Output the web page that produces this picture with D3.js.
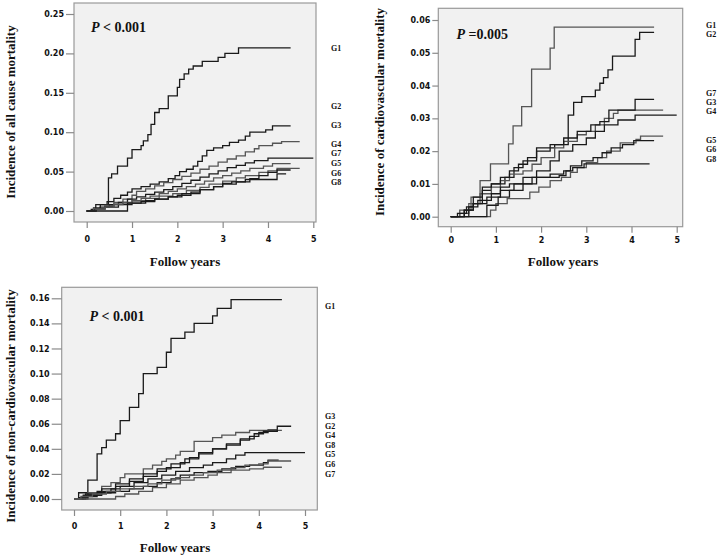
<!DOCTYPE html>
<html><head><meta charset="utf-8">
<script src="https://cdn.jsdelivr.net/npm/d3@7"></script>
<style>
body{margin:0;background:#fff;}
svg{display:block;}
</style></head>
<body>
<svg id="chart" width="722" height="557"></svg>
<script>
// ---------- DATA ----------
const xTicks = [0, 1, 2, 3, 4, 5];
const acTicks = [0, 0.05, 0.10, 0.15, 0.20, 0.25];
const cvTicks = [0, 0.01, 0.02, 0.03, 0.04, 0.05, 0.06];
const ncTicks = [0, 0.02, 0.04, 0.06, 0.08, 0.10, 0.12, 0.14, 0.16];

// All cause mortality: [years, cumulative incidence]
const acG1 = [[0,0],[0.2,0.008],[0.48,0.042],[0.55,0.047],[0.68,0.057],[0.9,0.067],[1.0,0.078],[1.2,0.083],[1.25,0.089],[1.35,0.097],[1.42,0.11],[1.5,0.125],[1.6,0.13],[1.8,0.146],[2.0,0.157],[2.05,0.167],[2.15,0.174],[2.25,0.18],[2.35,0.184],[2.55,0.19],[2.9,0.195],[3.05,0.2],[3.35,0.207],[4.5,0.207]];
const acG2 = [[0,0],[0.15,0.004],[0.3,0.008],[0.45,0.012],[0.6,0.016],[0.75,0.02],[0.9,0.024],[1.0,0.028],[1.2,0.031],[1.4,0.034],[1.6,0.037],[1.8,0.041],[1.95,0.045],[2.05,0.05],[2.2,0.053],[2.35,0.057],[2.45,0.063],[2.55,0.07],[2.65,0.077],[2.8,0.08],[3.0,0.083],[3.15,0.087],[3.35,0.09],[3.5,0.095],[3.6,0.1],[3.95,0.103],[4.1,0.108],[4.5,0.108]];
const acG3 = [[0,0],[0.2,0.003],[0.4,0.007],[0.6,0.011],[0.8,0.015],[1.0,0.02],[1.1,0.025],[1.3,0.028],[1.5,0.032],[1.7,0.036],[1.9,0.04],[2.1,0.044],[2.3,0.048],[2.5,0.053],[2.7,0.057],[2.9,0.062],[3.1,0.066],[3.3,0.07],[3.5,0.075],[3.7,0.079],[3.8,0.083],[4.1,0.086],[4.3,0.088],[4.7,0.088]];
const acG4 = [[0,0],[0.1,0.002],[0.3,0.005],[0.5,0.008],[0.7,0.011],[0.9,0.015],[1.1,0.018],[1.3,0.021],[1.5,0.024],[1.7,0.027],[1.9,0.031],[2.1,0.035],[2.3,0.039],[2.5,0.043],[2.7,0.047],[2.9,0.051],[3.1,0.055],[3.3,0.058],[3.5,0.061],[3.7,0.064],[4.0,0.067],[5.0,0.067]];
const acG5 = [[0,0],[0.15,0.003],[0.4,0.006],[0.6,0.009],[0.8,0.011],[1.0,0.013],[1.3,0.016],[1.6,0.019],[1.9,0.022],[2.2,0.026],[2.5,0.03],[2.7,0.034],[3.0,0.038],[3.3,0.042],[3.5,0.045],[3.8,0.049],[4.0,0.051],[4.2,0.054],[4.7,0.054]];
const acG6 = [[0,0],[0.2,0.002],[0.4,0.005],[0.7,0.008],[1.0,0.01],[1.3,0.013],[1.5,0.015],[1.8,0.018],[2.0,0.02],[2.3,0.024],[2.5,0.027],[2.8,0.031],[3.0,0.034],[3.3,0.037],[3.6,0.041],[3.8,0.045],[4.0,0.049],[4.2,0.052],[4.5,0.052]];
const acG7 = [[0,0],[0.2,0.002],[0.4,0.005],[0.6,0.008],[0.8,0.01],[1.0,0.013],[1.2,0.016],[1.4,0.019],[1.6,0.022],[1.8,0.025],[2.0,0.028],[2.2,0.031],[2.4,0.034],[2.6,0.038],[2.8,0.042],[3.0,0.045],[3.2,0.048],[3.4,0.051],[3.6,0.054],[3.9,0.057],[4.1,0.06],[4.5,0.06]];
const acG8 = [[0,0],[0.9,0.01],[1.2,0.012],[1.5,0.015],[1.8,0.018],[2.1,0.022],[2.5,0.027],[2.8,0.031],[3.0,0.035],[3.2,0.037],[3.5,0.04],[4.2,0.047],[4.4,0.047]];

// Cardiovascular mortality
const cvG1 = [[0,0],[0.2,0.002],[0.45,0.006],[0.65,0.011],[0.88,0.0161],[1.28,0.0222],[1.38,0.0277],[1.57,0.0336],[1.79,0.045],[2.2,0.0514],[2.29,0.0578],[4.5,0.0578]];
const cvG2 = [[0,0],[0.3,0.002],[0.5,0.004],[0.7,0.008],[0.9,0.01],[1.2,0.012],[1.4,0.015],[1.6,0.017],[1.9,0.021],[2.3,0.022],[2.6,0.031],[2.72,0.0349],[2.9,0.0366],[3.2,0.0386],[3.3,0.0407],[3.38,0.0424],[3.48,0.0448],[3.58,0.049],[4.08,0.0541],[4.18,0.0562],[4.5,0.0562]];
const cvG3 = [[0,0],[0.2,0.001],[0.4,0.004],[0.65,0.007],[0.9,0.009],[1.1,0.011],[1.3,0.013],[1.6,0.014],[1.8,0.016],[2.0,0.018],[2.3,0.021],[2.5,0.023],[2.8,0.025],[3.0,0.026],[3.2,0.028],[3.4,0.030],[3.6,0.0315],[3.7,0.0325],[4.7,0.0325]];
const cvG4 = [[0,0],[0.4,0.003],[0.6,0.005],[0.9,0.007],[1.1,0.009],[1.3,0.01],[1.6,0.012],[1.9,0.014],[2.2,0.017],[2.4,0.02],[2.7,0.022],[3.0,0.024],[3.2,0.026],[3.4,0.028],[3.7,0.0295],[4.08,0.031],[5.0,0.031]];
const cvG5 = [[0,0],[0.88,0.002],[1.0,0.004],[1.25,0.0055],[1.75,0.0075],[1.95,0.009],[2.2,0.011],[2.45,0.012],[2.65,0.0135],[2.8,0.015],[3.0,0.0165],[3.25,0.018],[3.45,0.02],[3.75,0.0225],[4.1,0.0236],[4.2,0.0246],[4.7,0.0246]];
const cvG6 = [[0,0],[0.3,0.002],[0.5,0.004],[0.8,0.006],[1.1,0.008],[1.4,0.01],[1.8,0.012],[2.2,0.013],[2.5,0.014],[2.65,0.0155],[2.9,0.017],[3.15,0.018],[3.35,0.0195],[3.55,0.021],[3.8,0.022],[4.05,0.0232],[4.5,0.0232]];
const cvG7 = [[0,0],[0.15,0.001],[0.35,0.003],[0.5,0.006],[0.7,0.009],[0.9,0.01],[1.1,0.012],[1.3,0.014],[1.5,0.016],[1.7,0.018],[1.9,0.02],[2.2,0.022],[2.5,0.024],[2.8,0.026],[3.1,0.028],[3.3,0.029],[3.5,0.0325],[4.08,0.0358],[4.5,0.0358]];
const cvG8 = [[0,0],[0.8,0.0035],[1.05,0.006],[1.3,0.008],[1.6,0.010],[1.9,0.012],[2.4,0.0125],[2.55,0.014],[2.7,0.015],[2.95,0.0161],[4.4,0.0161]];

// Non-cardiovascular mortality
const ncG1 = [[0,0],[0.1,0.005],[0.3,0.015],[0.5,0.036],[0.6,0.041],[0.7,0.047],[0.9,0.052],[1.0,0.0625],[1.2,0.073],[1.4,0.084],[1.5,0.1],[1.8,0.105],[2.0,0.117],[2.1,0.128],[2.4,0.133],[2.6,0.14],[3.0,0.146],[3.1,0.152],[3.4,0.159],[4.5,0.159]];
const ncG2 = [[0,0],[0.2,0.003],[0.5,0.006],[0.9,0.01],[1.2,0.014],[1.5,0.018],[1.8,0.022],[2.0,0.025],[2.3,0.029],[2.5,0.033],[2.7,0.037],[3.0,0.04],[3.3,0.043],[3.6,0.047],[3.8,0.05],[4.0,0.053],[4.2,0.055],[4.4,0.058],[4.7,0.058]];
const ncG3 = [[0,0],[0.3,0.005],[0.6,0.01],[0.8,0.013],[1.0,0.017],[1.1,0.02],[1.5,0.024],[1.7,0.027],[1.9,0.03],[2.0,0.032],[2.2,0.035],[2.3,0.038],[2.6,0.046],[3.0,0.049],[3.2,0.051],[3.5,0.053],[3.8,0.0547],[4.5,0.0547]];
const ncG4 = [[0,0],[0.25,0.004],[0.6,0.008],[0.9,0.012],[1.2,0.016],[1.5,0.02],[1.8,0.024],[2.1,0.028],[2.4,0.032],[2.7,0.036],[3.0,0.04],[3.3,0.044],[3.6,0.048],[3.9,0.052],[4.1,0.054],[4.4,0.055]];
const ncG5 = [[0,0],[0.2,0.002],[0.5,0.005],[0.8,0.008],[1.0,0.01],[1.3,0.013],[1.6,0.016],[1.9,0.019],[2.2,0.022],[2.5,0.025],[2.8,0.027],[3.0,0.029],[3.3,0.032],[3.5,0.035],[3.7,0.037],[5.0,0.037]];
const ncG6 = [[0,0],[0.1,0.001],[0.3,0.003],[0.6,0.005],[0.9,0.006],[1.2,0.008],[1.5,0.01],[1.8,0.013],[2.1,0.016],[2.3,0.019],[2.6,0.021],[2.9,0.022],[3.2,0.024],[3.5,0.026],[3.8,0.027],[4.1,0.029],[4.2,0.031],[4.43,0.031]];
const ncG7 = [[0,0],[0.9,0.002],[1.1,0.004],[1.4,0.006],[1.7,0.009],[2.0,0.012],[2.3,0.015],[2.6,0.017],[2.9,0.019],[3.1,0.021],[3.4,0.023],[3.8,0.024],[4.1,0.0253],[4.5,0.0253]];
const ncG8 = [[0,0],[0.15,0.002],[0.4,0.004],[0.7,0.006],[1.0,0.008],[1.3,0.01],[1.6,0.012],[1.9,0.015],[2.2,0.017],[2.5,0.019],[2.8,0.021],[3.1,0.023],[3.4,0.025],[3.7,0.027],[4.0,0.028],[4.2,0.0303],[4.7,0.0303]];

const acLabels = ["G1","G2","G3","G4","G7","G5","G6","G8"];
const cvLabels = ["G1","G2","G7","G3","G4","G5","G6","G8"];
const ncLabels = ["G1","G3","G2","G4","G8","G5","G6","G7"];

// ---------- DRAWING ----------
const svg = d3.select("#chart");
const BLACK = "#1a1a1a", GRAY = "#555555";

const panels = [
  { box:[74,316,3,222], xr:[86.7,313.3], yd:[0,0.25], yr:[211,14], yTicks:acTicks, ySize:8, xPad:8,
    series:[[acG1,BLACK],[acG2,BLACK],[acG3,GRAY],[acG4,BLACK],[acG5,GRAY],[acG6,BLACK],[acG7,GRAY],[acG8,BLACK]],
    labels:acLabels, labelX:331, labelY:[48,106,125,144,153.5,163,173,182.5],
    pText:"< 0.001", pX:91, pY:32,
    yTitle:"Incidence of all cause mortality", yTitleX:10, yTitleY:112,
    xTitleX:185, xTitleY:266 },
  { box:[438.3,682.7,8.3,226.7], xr:[450.7,676.7], yd:[0,0.06], yr:[216.7,20], yTicks:cvTicks, ySize:6, xPad:5,
    series:[[cvG1,GRAY],[cvG2,BLACK],[cvG3,GRAY],[cvG4,BLACK],[cvG5,GRAY],[cvG6,BLACK],[cvG7,BLACK],[cvG8,BLACK]],
    labels:cvLabels, labelX:706, labelY:[25,34,93,102,111,140,149.5,159],
    pText:"=0.005", pX:456.5, pY:38.5,
    yTitle:"Incidence of cardiovascular mortality", yTitleX:379, yTitleY:112,
    xTitleX:563, xTitleY:266 },
  { box:[61.7,317.3,287.3,510], xr:[74,305], yd:[0,0.16], yr:[499,298.3], yTicks:ncTicks, ySize:10, xPad:7,
    series:[[ncG1,BLACK],[ncG2,BLACK],[ncG3,GRAY],[ncG4,BLACK],[ncG5,BLACK],[ncG6,BLACK],[ncG7,GRAY],[ncG8,GRAY]],
    labels:ncLabels, labelX:325, labelY:[306.5,416,426,435.5,445,454.5,464,474],
    pText:"< 0.001", pX:89.5, pY:321,
    yTitle:"Incidence of non-cardiovascular mortality", yTitleX:10, yTitleY:406,
    xTitleX:175, xTitleY:552 }
];

panels.forEach(p => {
  const [bx0,bx1,by0,by1] = p.box;
  const g = svg.append("g");
  g.append("rect").attr("x",bx0).attr("y",by0).attr("width",bx1-bx0).attr("height",by1-by0)
    .attr("fill","#f1f1f1").attr("stroke","#9a9a9a").attr("stroke-width",1.2);

  const x = d3.scaleLinear().domain([0,5]).range(p.xr);
  const y = d3.scaleLinear().domain(p.yd).range(p.yr);

  const yAxis = d3.axisLeft(y).tickValues(p.yTicks).tickFormat(d3.format(".2f")).tickSize(p.ySize).tickPadding(2);
  const ya = g.append("g").attr("transform",`translate(${bx0},0)`).call(yAxis);
  const xAxis = d3.axisBottom(x).tickValues(xTicks).tickFormat(d3.format("d")).tickSize(6).tickPadding(p.xPad);
  const xa = g.append("g").attr("transform",`translate(0,${by1})`).call(xAxis);
  [ya,xa].forEach(a => {
    a.select(".domain").remove();
    a.selectAll(".tick line").attr("stroke","#8a8a8a").attr("stroke-width",1.2);
    a.selectAll(".tick text").attr("fill","#111").style("font-family","'DejaVu Sans', Verdana, sans-serif")
      .style("font-weight","bold").style("font-size","8px");
  });

  const line = d3.line().x(d=>x(d[0])).y(d=>y(d[1])).curve(d3.curveStepAfter);
  p.series.forEach(([data,col]) => {
    g.append("path").datum(data).attr("d",line).attr("fill","none")
      .attr("stroke",col).attr("stroke-width",1.3);
  });

  p.labels.forEach((lab,i) => {
    g.append("text").attr("x",p.labelX).attr("y",p.labelY[i]).attr("dy","0.35em").text(lab)
      .style("font-family","'Liberation Serif','Times New Roman',serif").style("font-weight","bold")
      .style("font-size","8px").attr("fill","#111");
  });

  const pt = g.append("text").attr("x",p.pX).attr("y",p.pY)
    .style("font-family","'Liberation Serif','Times New Roman',serif").style("font-weight","bold")
    .style("font-size","14px").attr("fill","#111");
  pt.append("tspan").style("font-style","italic").text("P");
  pt.append("tspan").text(" " + p.pText);

  g.append("text").attr("transform",`translate(${p.yTitleX},${p.yTitleY}) rotate(-90)`)
    .attr("text-anchor","middle").attr("dy","0.35em").text(p.yTitle)
    .style("font-family","'Liberation Serif','Times New Roman',serif").style("font-weight","bold")
    .style("font-size","13px").attr("fill","#111");

  g.append("text").attr("x",p.xTitleX).attr("y",p.xTitleY).attr("text-anchor","middle").text("Follow years")
    .style("font-family","'Liberation Serif','Times New Roman',serif").style("font-weight","bold")
    .style("font-size","13px").attr("fill","#111");
});
</script>
</body></html>
